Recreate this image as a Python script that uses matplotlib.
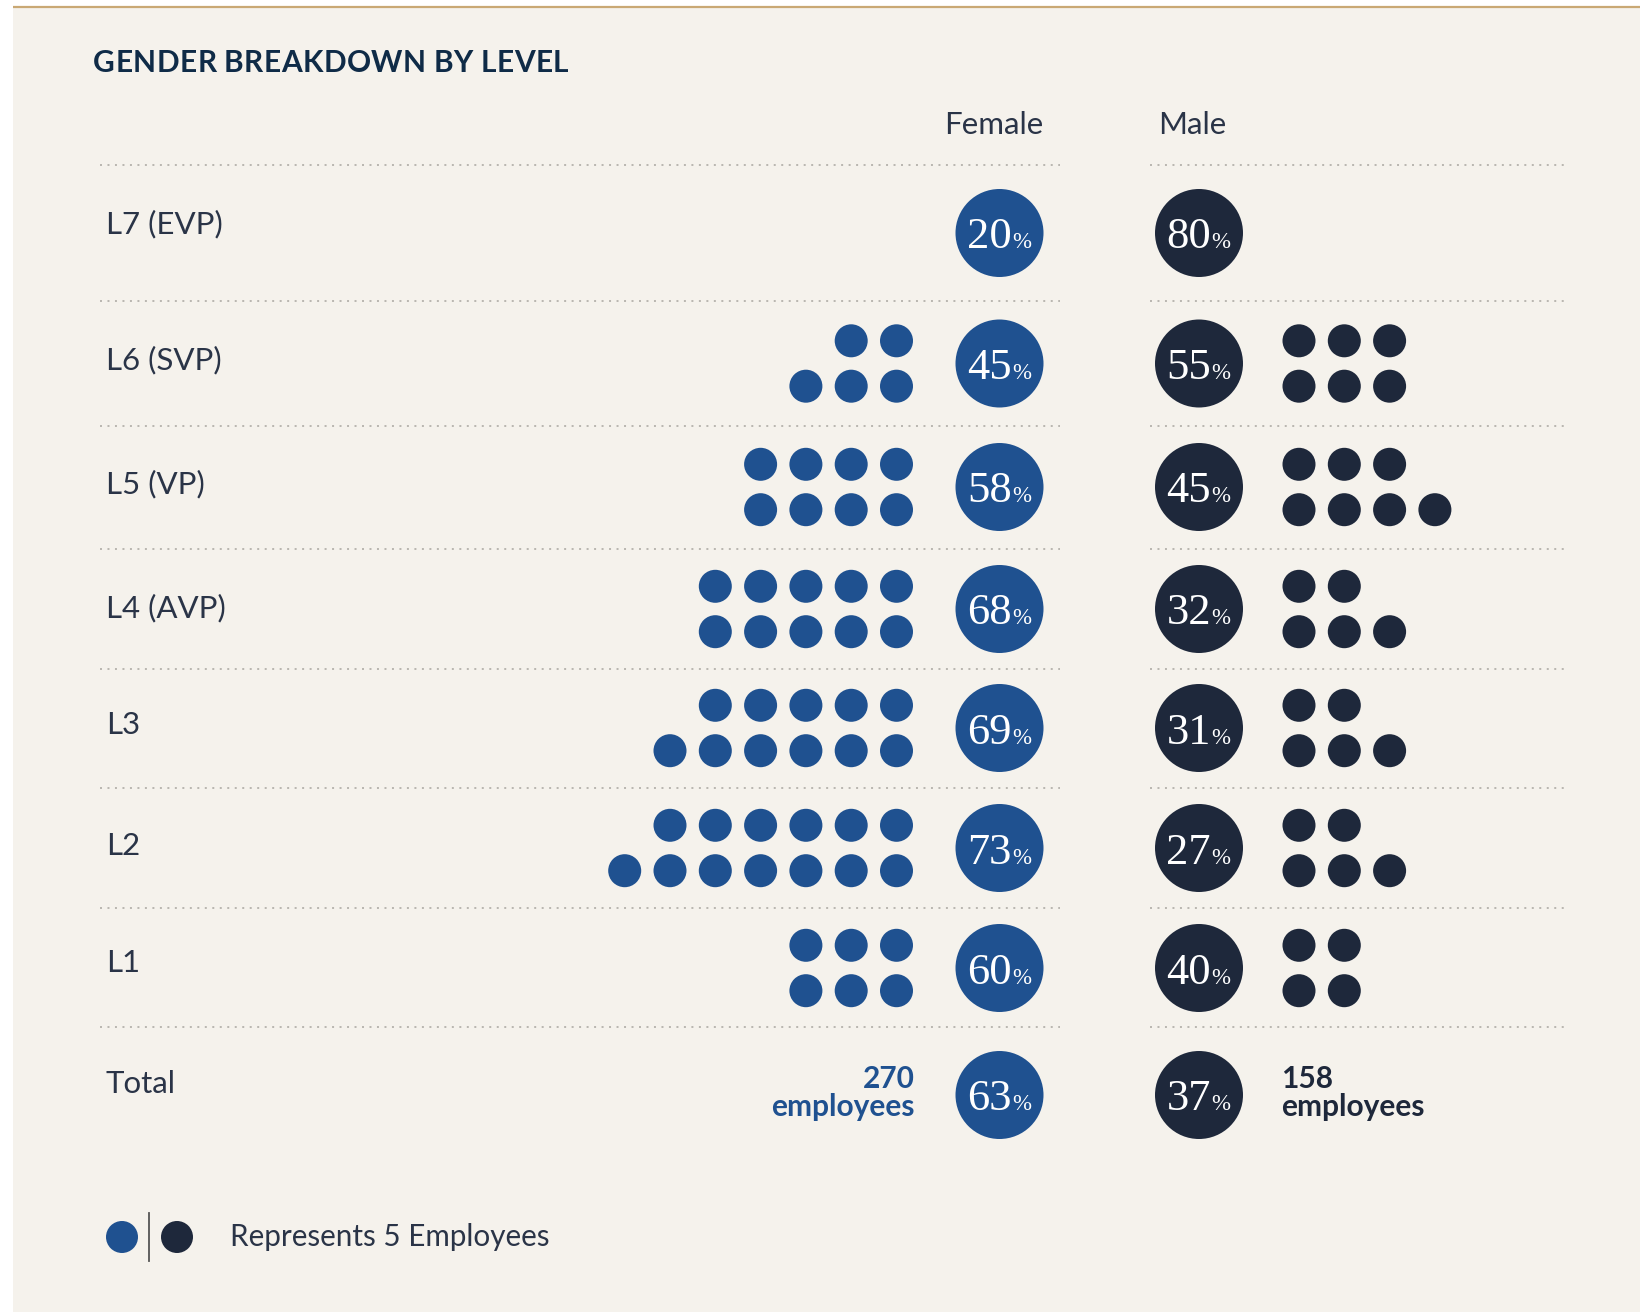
import matplotlib
matplotlib.use("Agg")
import matplotlib.pyplot as plt
from matplotlib.patches import Circle, Rectangle
import math

# ---------------- data ----------------
levels = ["L7 (EVP)", "L6 (SVP)", "L5 (VP)", "L4 (AVP)", "L3", "L2", "L1", "Total"]
female_pct = [20, 45, 58, 68, 69, 73, 60, 63]
male_pct = [80, 55, 45, 32, 31, 27, 40, 37]
female_dots = [0, 5, 8, 10, 11, 13, 6]   # each dot = 5 employees
male_dots = [0, 6, 7, 5, 5, 5, 4]
female_total = 270
male_total = 158
title = "GENDER BREAKDOWN BY LEVEL"
legend_text = "Represents 5 Employees"

# ---------------- layout / style ----------------
W, H = 1652, 1313
ROW_Y = [233, 363.5, 487, 609, 728, 848, 968, 1095]
LABEL_Y = [224.5, 360.5, 484.5, 608, 725, 846, 963, 1084]
SEP_Y = [165, 301, 426, 549, 669, 788, 908, 1027]
F_CX, M_CX, BIG_R = 999.5, 1199, 44
F_DOT_X0, M_DOT_X0, DOT_DX, DOT_DY, DOT_R = 896.5, 1299, 45.3, 22.7, 16.5
BLUE = "#1f5190"
DARK = "#1e283b"
BG = "#f5f2ec"
GOLD = "#c9a874"
TXT = "#2a3447"
TITLE_C = "#0f2b47"
SANS = ["Lato", "DejaVu Sans"]
SERIF = ["Liberation Serif", "DejaVu Serif"]

fig = plt.figure(figsize=(W / 100, H / 100), dpi=100)
fig.patch.set_facecolor("white")
ax = fig.add_axes([0, 0, 1, 1])
ax.set_xlim(0, W)
ax.set_ylim(H, 0)
ax.axis("off")

# panel and gold rule
ax.add_patch(Rectangle((13, 7), 1627, 1305, facecolor=BG, edgecolor="none", zorder=0))
ax.plot([13, 1640], [7, 7], color=GOLD, lw=1.6, solid_capstyle="butt", zorder=1)

# title with light letter tracking
fig.canvas.draw()
renderer = fig.canvas.get_renderer()
x = 93.0
track = 0.5
for ch in title:
    t = ax.text(x, 63, ch, family=SANS, weight="bold", fontsize=21.5,
                color=TITLE_C, ha="left", va="center")
    if ch == " ":
        w = 6.5
    else:
        bb = t.get_window_extent(renderer=renderer)
        w = bb.width
    x += w + track

# headers
ax.text(1043, 125, "Female", family=SANS, fontsize=22.5, color=TXT, ha="right", va="center")
ax.text(1158, 125, "Male", family=SANS, fontsize=22.5, color=TXT, ha="left", va="center")

# dotted separators
for y in SEP_Y:
    for x0, x1 in ((100, 1060), (1150, 1567)):
        ax.plot([x0, x1], [y, y], color="#a9a6a0", lw=1.1, linestyle=(0, (1.3, 3.6)),
                dash_capstyle="butt", zorder=1)


def pct_circle(cx, cy, pct, color):
    ax.add_patch(Circle((cx, cy), BIG_R, facecolor=color, edgecolor="none", zorder=2))
    split = cx + 12
    base = cy + 15.5
    ax.text(split, base, f"{pct}", family=SERIF, fontsize=32, color="white",
            ha="right", va="baseline", zorder=3)
    ax.text(split + 0.5, base, "%", family=SERIF, fontsize=16.5, color="white",
            ha="left", va="baseline", zorder=3)


def dot_group(n, cy, x0, direction, color):
    bottom = math.ceil(n / 2)
    top = n - bottom
    for row_n, y in ((top, cy - DOT_DY), (bottom, cy + DOT_DY)):
        for i in range(row_n):
            ax.add_patch(Circle((x0 + direction * i * DOT_DX, y), DOT_R,
                                facecolor=color, edgecolor="none", zorder=2))


for i, lab in enumerate(levels):
    cy = ROW_Y[i]
    ax.text(106, LABEL_Y[i], lab, family=SANS, fontsize=22.5, color=TXT, ha="left", va="center")
    pct_circle(F_CX, cy, female_pct[i], BLUE)
    pct_circle(M_CX, cy, male_pct[i], DARK)
    if i < len(female_dots):
        dot_group(female_dots[i], cy, F_DOT_X0, -1, BLUE)
        dot_group(male_dots[i], cy, M_DOT_X0, 1, DARK)

# totals
cy = ROW_Y[-1]
ax.text(F_DOT_X0 + DOT_R + 2, cy - 2, f"{female_total}\nemployees", family=SANS, weight="bold",
        fontsize=21.5, color=BLUE, ha="right", va="center", linespacing=1.02)
ax.text(M_DOT_X0 - DOT_R - 1, cy - 2, f"{male_total}\nemployees", family=SANS, weight="bold",
        fontsize=21.5, color=DARK, ha="left", va="center", linespacing=1.02)

# legend
ax.add_patch(Circle((122, 1237), 16, facecolor=BLUE, edgecolor="none", zorder=2))
ax.plot([149, 149], [1213, 1261], color="#555555", lw=1.3, zorder=2)
ax.add_patch(Circle((177, 1237), 16, facecolor=DARK, edgecolor="none", zorder=2))
ax.text(230, 1237, legend_text, family=SANS, fontsize=21.3, color=TXT, ha="left", va="center")

fig.savefig("out.png", dpi=100, facecolor="white")
